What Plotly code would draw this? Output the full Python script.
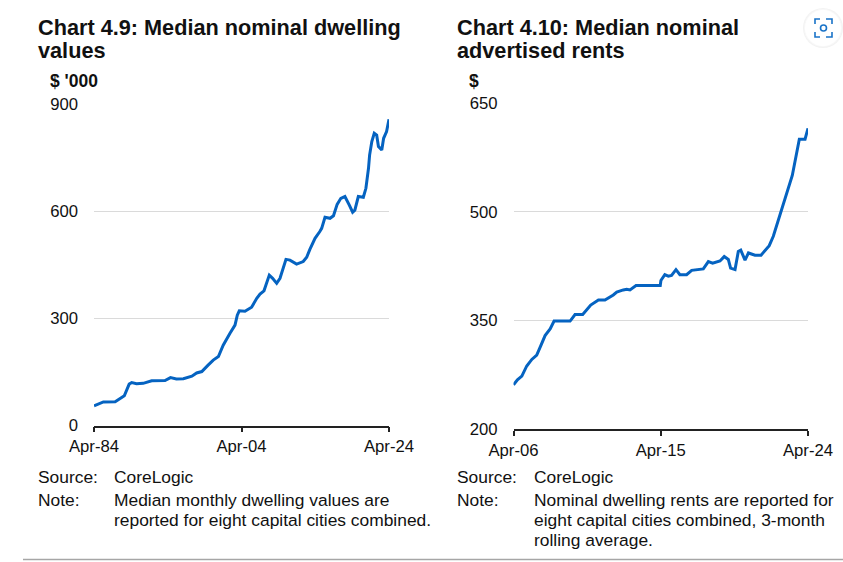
import plotly.graph_objects as go

W, H = 843, 562
FONT = "Liberation Sans"
INK = "#111111"
BLUE = "#0563C1"

# Chart 4.9: median nominal dwelling values ($'000)
value_years = [1984.33, 1984.92, 1985.6, 1987.2, 1987.85, 1988.44, 1989.1, 1989.44, 1990.1, 1991.0,
               1992.15, 1993.96, 1994.7, 1995.5, 1996.45, 1997.6, 1998.25, 1998.95, 1999.8,
               2000.5, 2001.2, 2001.85, 2002.77, 2003.45, 2003.76, 2004.03, 2004.8, 2005.7, 2006.4,
               2006.84, 2007.38, 2008.1, 2008.55, 2009.1, 2009.55, 2010.36, 2010.9, 2011.8, 2012.7,
               2013.17, 2013.6, 2014.3, 2014.95, 2015.2, 2015.65, 2016.33, 2016.8, 2017.3, 2017.8,
               2018.35, 2018.95, 2019.4, 2019.7, 2020.17, 2020.85, 2021.2, 2021.55, 2021.7, 2022.0,
               2022.33, 2022.66, 2022.9, 2023.35, 2023.6, 2024.0, 2024.33]
dwelling_values = [55, 60, 66, 66.5, 76, 83, 116, 120, 117, 118,
                   125, 126, 134, 130, 131, 138, 147, 151, 169,
                   183, 193, 225, 258, 281, 309, 321, 320, 331, 356,
                   368, 377, 421, 412, 398, 412, 465, 463, 452, 459,
                   471, 493, 524, 543, 552, 583, 580, 587, 619, 636,
                   641, 617, 597, 603, 641, 639, 664, 720, 757, 795,
                   818, 813, 781, 771, 804, 823, 857]

# Chart 4.10: median nominal advertised rents ($)
rent_years = [2006.33, 2006.57, 2006.84, 2007.14, 2007.45, 2007.75, 2008.0, 2008.26, 2008.57, 2008.81,
              2009.79, 2010.09, 2010.56, 2011.05, 2011.52, 2011.92, 2012.43, 2012.64, 2013.04, 2013.25,
              2013.45, 2013.82, 2015.3, 2015.34, 2015.58, 2015.79, 2015.99, 2016.26, 2016.5, 2016.91,
              2017.22, 2017.93, 2018.24, 2018.5, 2018.95, 2019.21, 2019.46, 2019.6, 2019.87, 2020.07,
              2020.22, 2020.48, 2020.69, 2021.09, 2021.46, 2021.7, 2021.96, 2022.21, 2022.72, 2022.86,
              2023.37, 2023.8, 2024.15, 2024.33]
rents = [261, 268, 273, 287, 296, 302, 315, 329, 338, 349,
         349, 358, 358, 371, 378, 378, 385, 389, 392, 393,
         392, 398, 398, 405, 413, 411, 412, 420, 413, 413,
         419, 421, 431, 429, 432, 438, 434, 422, 420, 445,
         447, 433, 443, 440, 440, 447, 453, 466, 502, 511,
         550, 600, 600, 615]

left_xticks = [1984.33, 2004.33, 2024.33]
left_xlabels = ["Apr-84", "Apr-04", "Apr-24"]
left_yticks = [0, 300, 600, 900]
right_xticks = [2006.33, 2015.33, 2024.33]
right_xlabels = ["Apr-06", "Apr-15", "Apr-24"]
right_yticks = [200, 350, 500, 650]


def fx(px):
    return px / W


def fy(py):
    return 1 - py / H


fig = go.Figure()
fig.add_trace(go.Scatter(x=value_years, y=dwelling_values, mode="lines", xaxis="x", yaxis="y",
                         line=dict(color=BLUE, width=3), showlegend=False))
fig.add_trace(go.Scatter(x=rent_years, y=rents, mode="lines", xaxis="x2", yaxis="y2",
                         line=dict(color=BLUE, width=3), showlegend=False))


def xaxis(domain, rng, ticks, labels, anchor):
    return dict(domain=[fx(domain[0]), fx(domain[1])], range=rng, anchor=anchor, automargin=False,
                tickmode="array", tickvals=ticks, ticktext=labels,
                showgrid=False, zeroline=False, showline=True, linecolor="#222222", linewidth=1.5,
                ticks="outside", ticklen=5, tickwidth=1.5, tickcolor="#222222",
                tickfont=dict(family=FONT, size=16.7, color=INK), tickangle=0)


def yaxis(domain, rng, ticks, anchor):
    return dict(domain=[fy(domain[1]), fy(domain[0])], range=rng, anchor=anchor, automargin=False,
                tickmode="array", tickvals=ticks,
                showgrid=True, gridcolor="#DADADA", gridwidth=1.2, zeroline=False, showline=False,
                ticks="", ticklabelstandoff=15,
                tickfont=dict(family=FONT, size=16.7, color=INK))


fig.update_layout(
    width=W, height=H, margin=dict(l=0, r=0, t=0, b=0, autoexpand=False),
    paper_bgcolor="white", plot_bgcolor="white", showlegend=False,
    xaxis=xaxis((94, 389), [1984.33, 2024.33], left_xticks, left_xlabels, "y"),
    yaxis=yaxis((104, 425.5), [0, 900], left_yticks, "x"),
    xaxis2=xaxis((513.5, 808), [2006.33, 2024.33], right_xticks, right_xlabels, "y2"),
    yaxis2=yaxis((103, 429), [200, 650], right_yticks, "x2"),
)


def text(px, py, s, size=17.4, bold=False):
    fig.add_annotation(xref="paper", yref="paper", x=fx(px), y=fy(py), text=f"<b>{s}</b>" if bold else s,
                       showarrow=False, xanchor="left", yanchor="middle", align="left",
                       xshift=0, borderpad=0, borderwidth=0,
                       font=dict(family=FONT, size=size, color=INK))


text(38, 27, "Chart 4.9: Median nominal dwelling", 21.7, True)
text(38, 51, "values", 21.7, True)
text(50, 81, "$ '000", 17.5, True)
text(38, 477, "Source:")
text(114, 477, "CoreLogic")
text(38, 500, "Note:")
text(114, 500, "Median monthly dwelling values are")
text(114, 520, "reported for eight capital cities combined.")

text(457, 27, "Chart 4.10: Median nominal", 21.7, True)
text(457, 51, "advertised rents", 21.7, True)
text(469, 81, "$", 17.5, True)
text(457, 477, "Source:")
text(534, 477, "CoreLogic")
text(457, 500, "Note:")
text(534, 500, "Nominal dwelling rents are reported for")
text(534, 520, "eight capital cities combined, 3-month")
text(534, 540, "rolling average.")


def paper_shape(kind, **kw):
    fig.add_shape(type=kind, xref="paper", yref="paper", layer="above", **kw)


paper_shape("line", x0=fx(23), x1=fx(843), y0=fy(559.5), y1=fy(559.5), line=dict(color="#A6A6A6", width=1.5))

# Floating image-search badge in the top-right corner
for r, c in [(20, "#F3F3F3"), (19, "#F8F8F8"), (18, "#FFFFFF")]:
    paper_shape("circle", x0=fx(823 - r), x1=fx(823 + r), y0=fy(28 - r), y1=fy(28 + r),
                fillcolor=c, line=dict(width=0))
for (x0, y0, x1, y1, x2, y2) in [(815, 24, 815, 19, 820, 19), (826, 19, 832, 19, 832, 24),
                                 (832, 32, 832, 37, 826, 37), (820, 37, 815, 37, 815, 32)]:
    paper_shape("path", path=f"M {fx(x0)} {fy(y0)} L {fx(x1)} {fy(y1)} L {fx(x2)} {fy(y2)}",
                line=dict(color="#1A73C8", width=1.6))
paper_shape("circle", x0=fx(820.5), x1=fx(826.5), y0=fy(25), y1=fy(31),
            line=dict(color="#1A73C8", width=1.6), fillcolor="white")

fig.write_html("out.html", config={"displayModeBar": False},
               post_script="document.body.style.margin='0';document.documentElement.style.overflow='hidden';")
